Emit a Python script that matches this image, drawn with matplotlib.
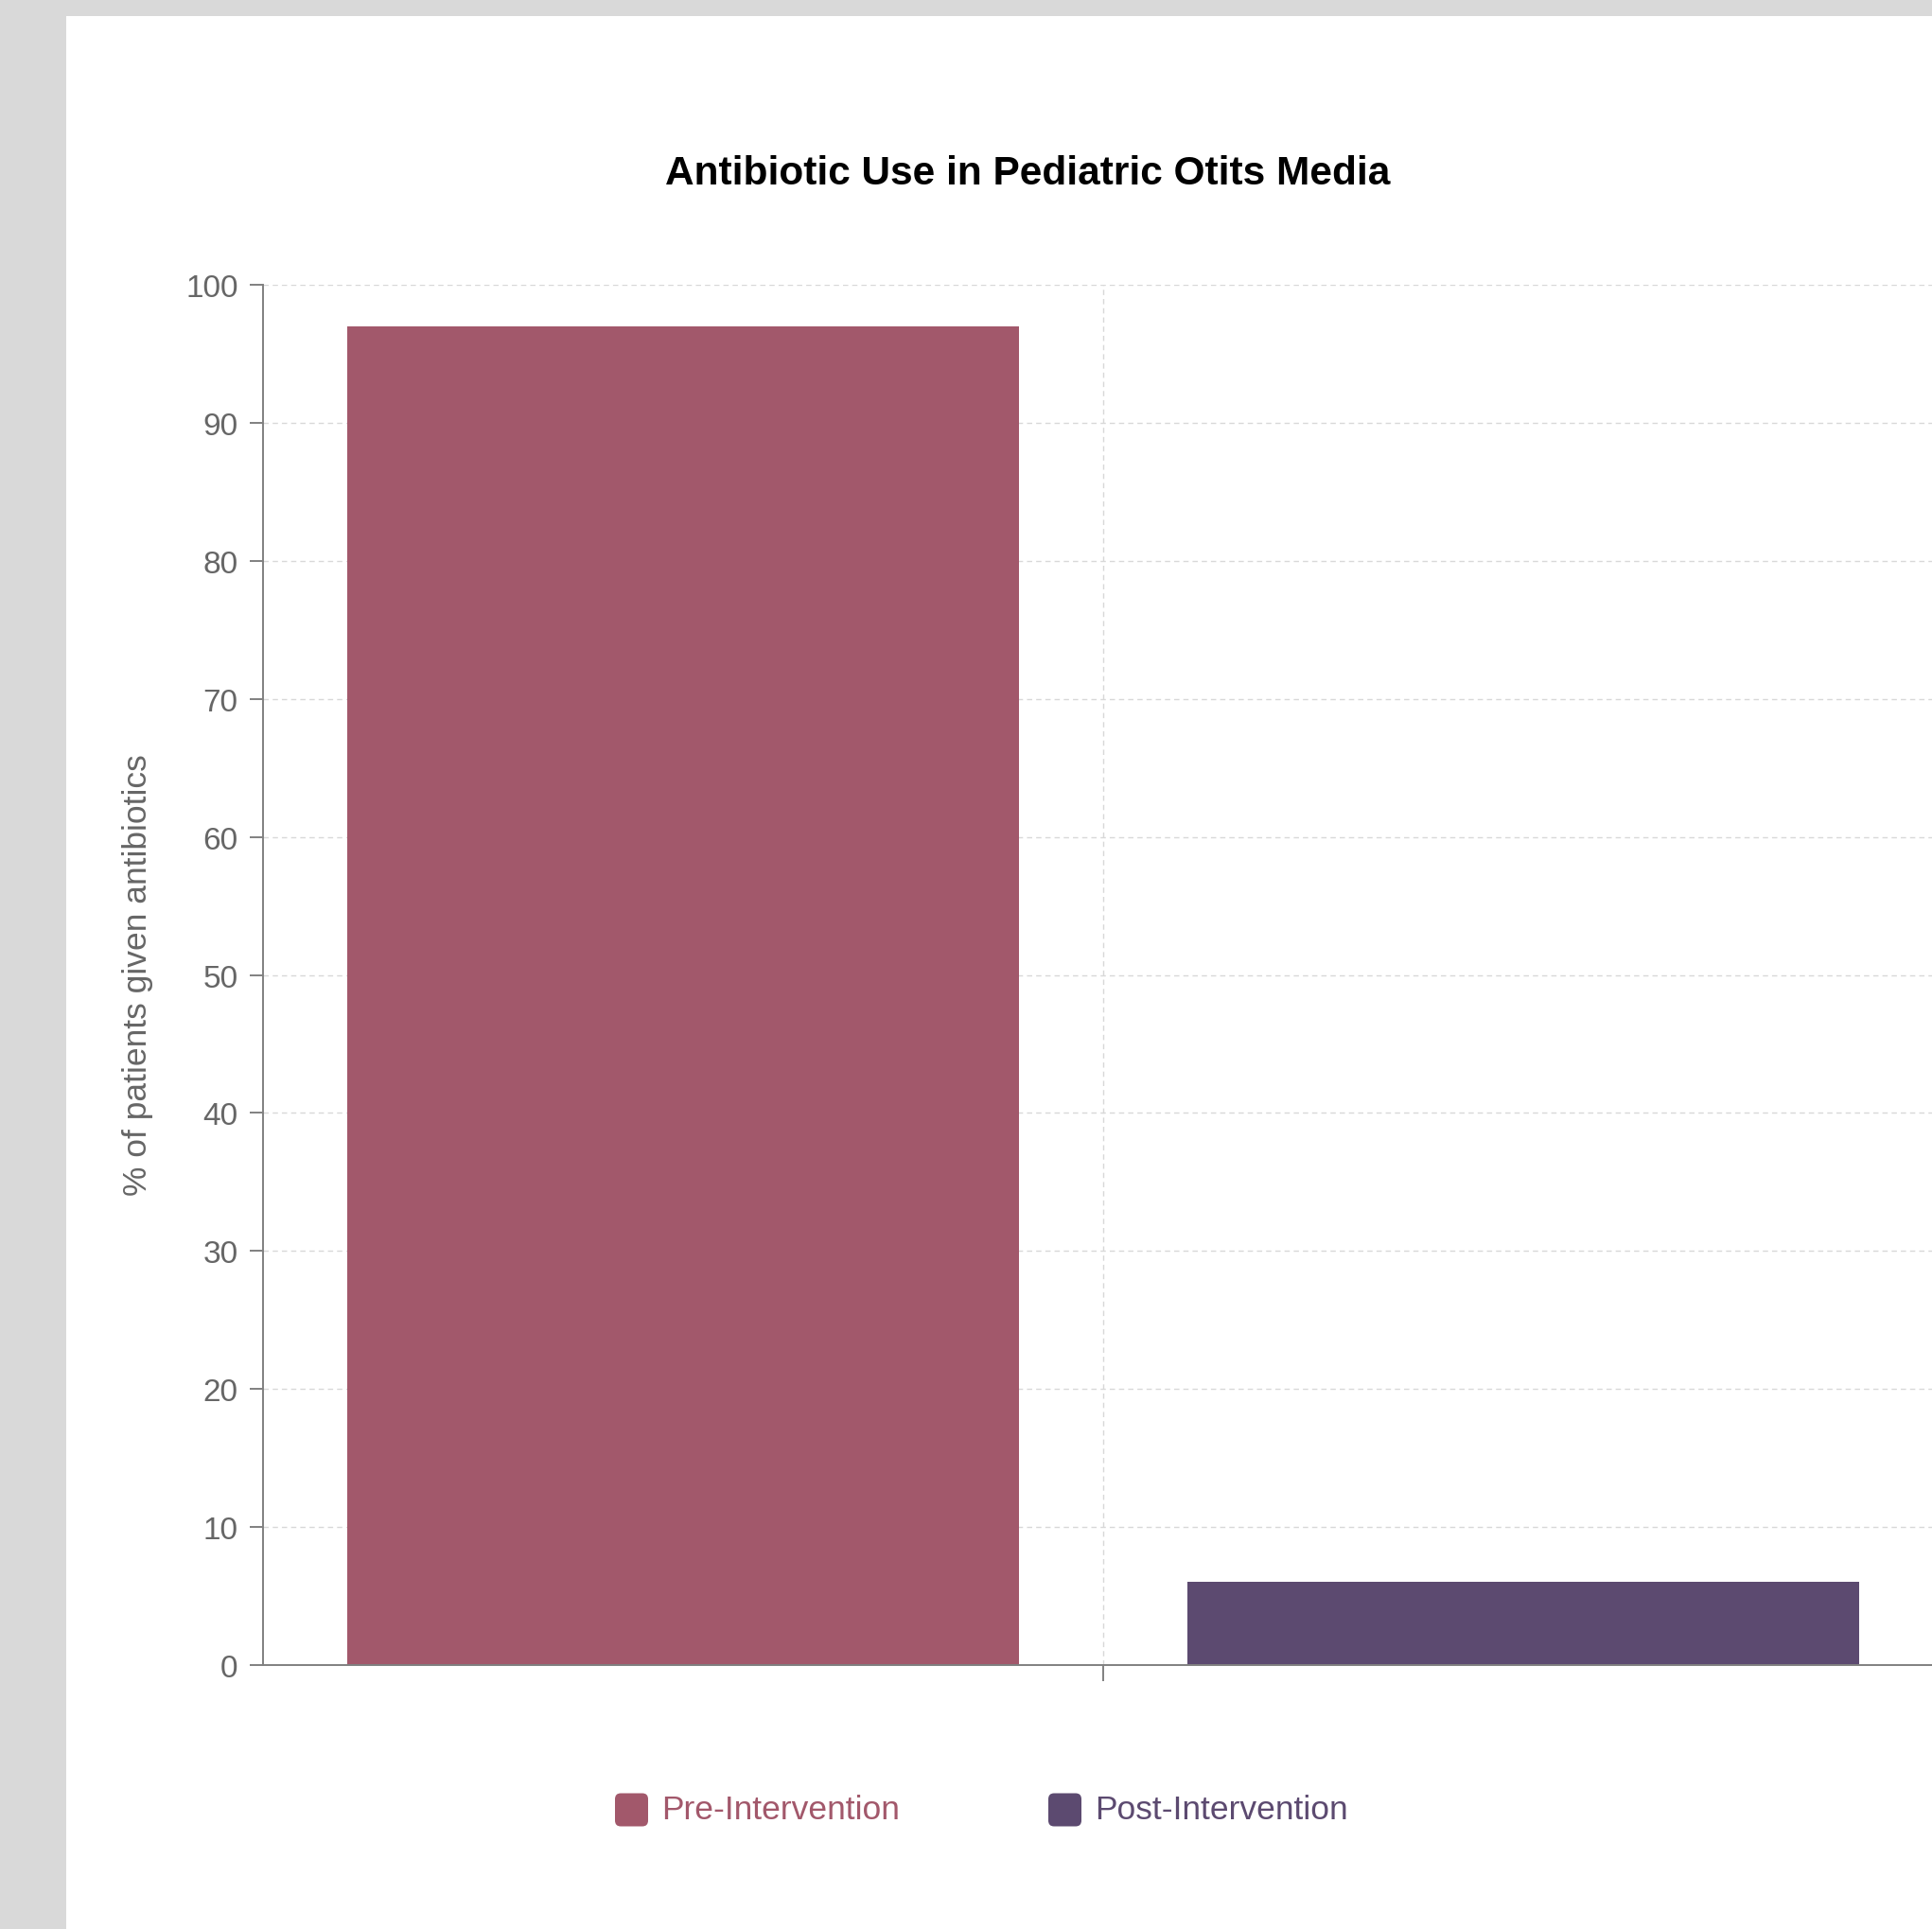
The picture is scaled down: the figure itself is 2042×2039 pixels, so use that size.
import matplotlib
matplotlib.use("Agg")
import matplotlib.pyplot as plt
from matplotlib.patches import Rectangle, FancyBboxPatch

plt.rcParams['font.family'] = ['Liberation Sans', 'DejaVu Sans']

# ---- data ----
title = "Antibiotic Use in Pediatric Otits Media"
ylabel = "% of patients given antibiotics"
series_names = ["Pre-Intervention", "Post-Intervention"]
series_values = [97, 6]
series_colors = ["#a2586b", "#5c4a70"]
yticks = [0, 10, 20, 30, 40, 50, 60, 70, 80, 90, 100]

W, H = 2042, 2040
fig = plt.figure(figsize=(W / 100, H / 100), dpi=100)
fig.patch.set_facecolor("#d9d9d9")
fig.patches.append(Rectangle((70 / W, 0), 1 - 70 / W, (H - 18) / H,
                             transform=fig.transFigure, facecolor="white",
                             edgecolor="none", zorder=-5))

left, right = 278 / W, 2054 / W
bottom, top = (H - 1761) / H, (H - 302) / H
ax = fig.add_axes([left, bottom, right - left, top - bottom])
ax.set_facecolor("none")
ax.set_zorder(1)

x = list(range(len(series_values)))
ax.bar(x, series_values, width=0.8, color=series_colors, zorder=2)

ax.set_xlim(-0.5, len(series_values) - 0.5)
ax.set_ylim(0, 100)
ax.set_yticks(yticks)
ax.set_yticklabels([str(v) for v in yticks])
ax.set_xticks([i + 0.5 for i in range(len(series_values) - 1)])
ax.set_xticklabels([])

for s in ["top", "right"]:
    ax.spines[s].set_visible(False)
for s in ["left", "bottom"]:
    ax.spines[s].set_color("#808080")
    ax.spines[s].set_linewidth(1.4)

ax.tick_params(axis="y", length=10, width=1.4, color="#808080", pad=9,
               labelsize=24, labelcolor="#666666")
ax.tick_params(axis="x", length=12, width=1.4, color="#808080")

ax.grid(True, axis="both", color="#d8d8d8", linestyle=(0, (4, 3)),
        linewidth=1.0, zorder=0)
ax.set_axisbelow(True)

fig.text(1086 / W, 1 - 184 / H, title, ha="center", va="center",
         fontsize=30.5, fontweight="bold", color="black")
fig.text(146 / W, 1 - 1031 / H, ylabel, ha="center", va="center",
         rotation=90, fontsize=25.5, color="#666666")

# legend
leg_x = [650, 1108]
leg_y = 1914
sq = 35
for name, col, lx in zip(series_names, series_colors, leg_x):
    fig.patches.append(FancyBboxPatch(
        (lx / W, (H - leg_y - sq / 2) / H), sq / W, sq / H,
        boxstyle="round,pad=0,rounding_size=0.003",
        transform=fig.transFigure, facecolor=col, edgecolor="none", zorder=3))
    fig.text((lx + sq + 14) / W, 1 - leg_y / H, name, ha="left", va="center",
             fontsize=25.5, color=col)

fig.savefig("out.png", dpi=100, facecolor=fig.get_facecolor())
